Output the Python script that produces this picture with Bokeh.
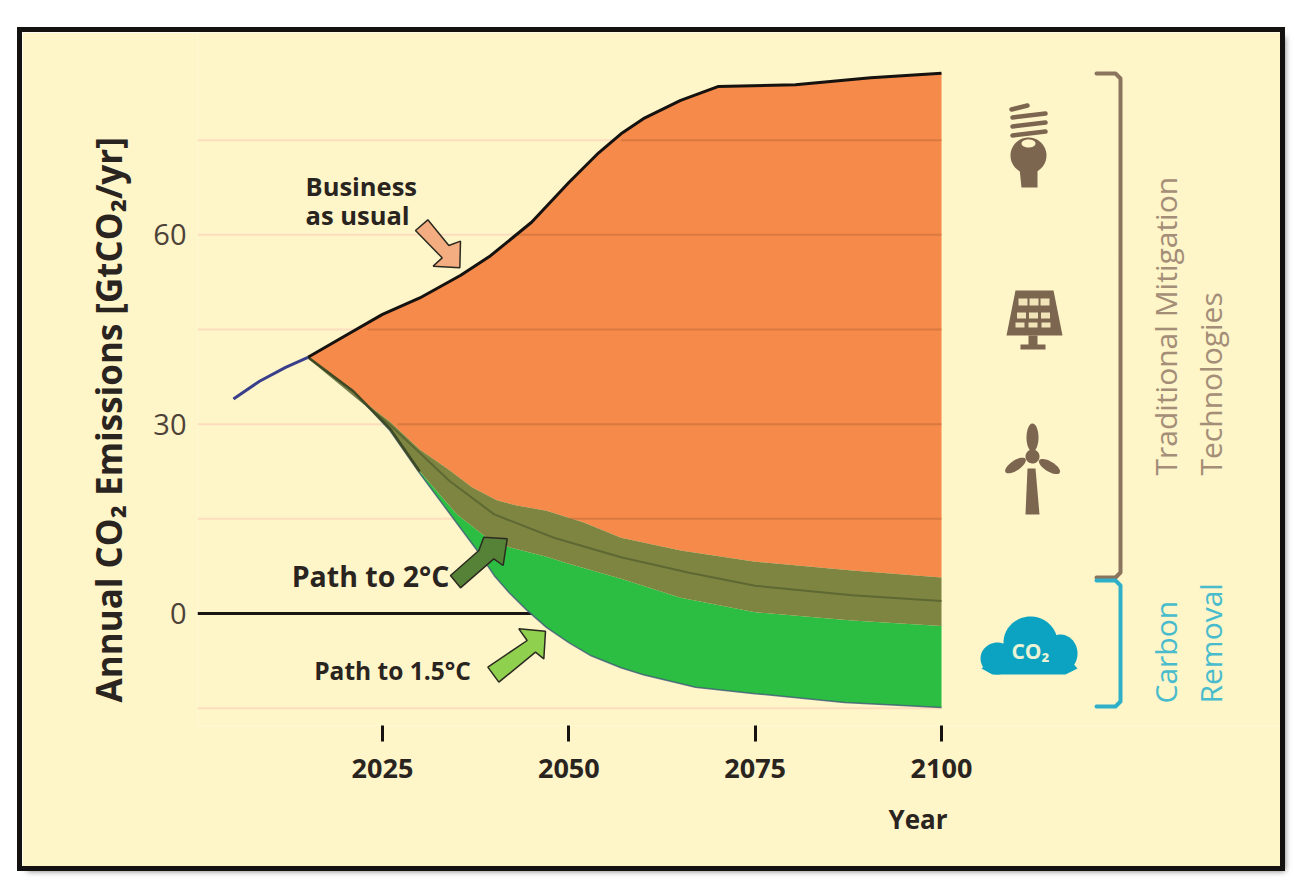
import numpy as np
from bokeh.plotting import figure
from bokeh.models import Range1d, FixedTicker, Label, Title
from bokeh.embed import file_html
from bokeh.resources import INLINE

# ---------- data ----------
hist_years = [2005, 2008.5, 2012, 2015]
hist_vals = [34, 36.8, 39, 40.6]
bau_years = [2015, 2020, 2025, 2030, 2035.5, 2039.5, 2045, 2050, 2054, 2057, 2060, 2065, 2070, 2080.4, 2090.5, 2100]
bau_vals = [40.6, 44, 47.4, 50, 53.6, 56.7, 62, 68.3, 73, 76, 78.4, 81.3, 83.5, 83.8, 84.9, 85.6]
two_up_years = [2015, 2020.7, 2026, 2030, 2034, 2037, 2040.4, 2043, 2047, 2052, 2057, 2065, 2075, 2088, 2100]
two_up_vals = [40.6, 35.2, 30.4, 26, 22.7, 20, 17.9, 17.1, 16.3, 14.4, 12, 10, 8.2, 6.8, 5.7]
two_mid_years = [2015, 2026, 2034, 2040, 2048, 2057, 2066, 2075, 2088, 2100]
two_mid_vals = [40.6, 29.9, 21, 15.7, 12, 8.9, 6.5, 4.4, 2.9, 2]
two_lo_years = [2015, 2021, 2026, 2030, 2035, 2039, 2042, 2047, 2050, 2057, 2065, 2075, 2088, 2100]
two_lo_vals = [40.6, 35.3, 29.3, 22.5, 15.7, 12, 10.5, 9, 7.9, 5.5, 2.5, 0.2, -1.1, -2]
one_lo_years = [2015, 2021, 2026, 2030, 2038, 2040, 2042, 2044.4, 2047, 2050, 2053, 2057, 2060, 2067, 2075, 2087, 2100]
one_lo_vals = [40.6, 35.3, 29.0, 22.2, 9.5, 6, 3.3, 0.5, -2.2, -4.6, -6.7, -8.6, -9.7, -11.7, -12.7, -14.1, -14.9]
grid_levels = [75, 60, 45, 30, 15, -15]
grid_over_from = [2057, 2043, 2023, 2027, 2050]
y_ticks = [0, 30, 60]
x_ticks = [2025, 2050, 2075, 2100]

# ---------- colours ----------
CARD = "#FEF5C8"; ORANGE = "#F58A4B"; OLIVE = "#7E8541"; GREEN = "#2CBE43"
PEACH = "#FCDDBE"; BROWN = "#8A745E"; TEAL = "#2FB0C8"; INK = "#2A2420"
FONT = "Open Sans"

# ---------- reference-pixel helpers for annotations ----------
def X(px): return 2025 + (px - 382) / 7.4533
def Y(py): return (613 - py) / 6.311
def XS(a): return [X(v) for v in a]
def YS(a): return [Y(v) for v in a]

L, R, T, B = 22, 1280, 32, 866
BOT = 725
p = figure(width=R - L, height=B - T, output_backend="svg", toolbar_location=None,
           x_range=Range1d(X(197), X(R)), y_range=Range1d(Y(BOT), Y(T)),
           min_border_left=197 - L, min_border_right=0, min_border_top=0, min_border_bottom=B - BOT,
           background_fill_color=CARD, border_fill_color=CARD, outline_line_color=None)
p.margin = (T, 0, 0, L)
p.styles = {"outline": "5px solid #141210", "box-shadow": "5px 5px 6px rgba(0,0,0,0.55)"}
p.grid.visible = False

p.xaxis.ticker = FixedTicker(ticks=x_ticks)
p.xaxis.axis_line_color = None
p.xaxis.major_tick_in = 0
p.xaxis.major_tick_out = 16
p.xaxis.major_tick_line_width = 3
p.xaxis.major_tick_line_color = "#151210"
p.xaxis.minor_tick_line_color = None
p.xaxis.major_label_standoff = 17
p.xaxis.major_label_text_font = FONT
p.xaxis.major_label_text_font_style = "bold"
p.xaxis.major_label_text_font_size = "27px"
p.xaxis.major_label_text_color = INK

p.yaxis.ticker = FixedTicker(ticks=y_ticks)
p.yaxis.axis_line_color = None
p.yaxis.major_tick_line_color = None
p.yaxis.minor_tick_line_color = None
p.yaxis.major_tick_in = 0
p.yaxis.major_tick_out = 0
p.yaxis.major_label_standoff = 11
p.yaxis.major_label_text_font = FONT
p.yaxis.major_label_text_font_size = "29px"
p.yaxis.major_label_text_color = "#4D4238"

p.add_layout(Title(text="Annual CO\u2082 Emissions [GtCO\u2082/yr]", text_font=FONT, text_font_size="35px",
                   text_font_style="bold", text_color=INK, align="left", standoff=38, offset=23), "left")
p.add_layout(Title(text="Year", text_font=FONT, text_font_size="26px", text_font_style="bold",
                   text_color=INK, align="left", standoff=36, offset=691), "below")

# gridlines under the areas
p.segment(x0=[X(197)] * len(grid_levels), x1=[2100] * len(grid_levels), y0=grid_levels, y1=grid_levels,
          line_color=PEACH, line_width=2)
p.segment(x0=[X(197)], x1=[2060], y0=[0], y1=[0], line_color="#1A1512", line_width=3)

# areas
p.patch(bau_years + two_up_years[::-1], bau_vals + two_up_vals[::-1], fill_color=ORANGE, line_color=None)
p.patch(two_lo_years + one_lo_years[::-1], two_lo_vals + one_lo_vals[::-1], fill_color=GREEN, line_color=None)
p.patch(two_up_years + two_lo_years[::-1], two_up_vals + two_lo_vals[::-1], fill_color=OLIVE, line_color=None)

# gridlines showing through the orange
p.segment(x0=grid_over_from, x1=[2100] * len(grid_over_from), y0=grid_levels[:5], y1=grid_levels[:5],
          line_color="#A65A2A", line_width=2, line_alpha=0.35)

# outlines
p.line(two_mid_years, two_mid_vals, line_color="#55602F", line_width=2, line_alpha=0.8)
p.line(one_lo_years, one_lo_vals, line_color="#3F5A78", line_width=1.5, line_alpha=0.8)
p.line(two_lo_years[:4], two_lo_vals[:4], line_color="#3E4A24", line_width=2.5)
p.line(bau_years, bau_vals, line_color="#15120F", line_width=3)
p.line(hist_years, hist_vals, line_color="#3A3F8C", line_width=3)

# arrows
def poly(pts, **kw):
    a = np.array(pts, float)
    p.patch(XS(a[:, 0]), YS(a[:, 1]), **kw)

def zoomed(pts, ox, oy):
    return [(ox + a / 3, oy + b / 3) for a, b in pts]

AR = dict(line_color="#2C2A20", line_width=1.5)
poly(zoomed([(405, 240), (442, 208), (505, 285), (540, 272), (538, 352), (458, 347), (485, 322)], 280, 150), fill_color="#F3AD80", **AR)
poly(zoomed([(510, 705), (595, 630), (610, 590), (680, 595), (668, 675), (640, 655), (540, 742)], 280, 340), fill_color="#568238", **AR)
poly(zoomed([(622, 980), (740, 900), (715, 865), (795, 872), (790, 955), (765, 935), (655, 1025)], 280, 340), fill_color="#8FD14F", **AR)

# brackets
def bracket(pts, col):
    a = np.array(pts, float)
    p.line(XS(a[:, 0]), YS(a[:, 1]), line_color=col, line_width=4, line_join="round", line_cap="round")

bracket([(1096, 73), (1115, 73), (1120, 78), (1120, 572), (1115, 577), (1096, 577)], BROWN)
bracket([(1096, 580), (1115, 580), (1120, 585), (1120, 701), (1115, 706), (1096, 706)], TEAL)

# icons
def ell(cx, cy, rx, ry, col, rot=0.0):
    t = np.linspace(0, 2 * np.pi, 50)
    xx = rx * np.cos(t); yy = ry * np.sin(t)
    c, s = np.cos(rot), np.sin(rot)
    p.patch(XS(cx + xx * c - yy * s), YS(cy + xx * s + yy * c), fill_color=col, line_color=None)

ICON = "#7D6650"
# bulb
for y0, x0, x1 in [(105, 1011, 1027), (113, 1012, 1045), (122, 1012, 1045), (131, 1012, 1045)]:
    p.line(XS([x0, x1]), YS([y0 + 4, y0]), line_color=ICON, line_width=4.5, line_cap="round")
ell(1028, 155, 18, 18, ICON)
ell(1028, 143, 11, 5, ICON)
ell(1028, 143, 7, 4, CARD)
poly([(1019, 168), (1037, 168), (1037, 187), (1021, 187)], fill_color=ICON, line_color=None)
# solar panel
poly([(1015, 290), (1053, 290), (1062, 335), (1006, 335)], fill_color=ICON, line_color=None)
for r, (yy, h) in enumerate([(298, 7), (312, 6), (322, 5)]):
    for c in range(3):
        xx = 1018 - r * 1.5 + c * (11 + r)
        poly([(xx, yy), (xx + 9, yy), (xx + 9, yy + h), (xx, yy + h)], fill_color="#F0E4B8", line_color=None)
poly([(1028, 335), (1037, 335), (1037, 344), (1045, 344), (1045, 349), (1020, 349), (1020, 344), (1028, 344)], fill_color=ICON, line_color=None)
# wind turbine
poly([(1027, 468), (1035, 468), (1039, 514), (1025, 514)], fill_color=ICON, line_color=None)
ell(1032, 437, 6, 14, ICON)
ell(1015, 465, 12, 5, ICON, -0.59)
ell(1049, 466, 12, 5, ICON, 0.55)
ell(1032, 456, 7, 7, ICON)
# cloud
CLOUD = "#0BA3C1"
ell(1030, 642, 27, 26, CLOUD)
ell(997, 658, 17, 16, CLOUD)
ell(1060, 653, 17, 19, CLOUD)
poly([(990, 660), (1070, 660), (1077, 668), (1065, 674), (992, 674), (981, 668)], fill_color=CLOUD, line_color=None)

# texts
def txt(s, x, y, size, col=INK, style="normal", angle=0.0, align="center", base="middle"):
    p.add_layout(Label(x=X(x), y=Y(y), text=s, text_font=FONT, text_font_size=f"{size}px", text_color=col,
                       text_font_style=style, angle=angle, text_align=align, text_baseline=base))

V = np.pi / 2
txt("Business", 305, 185, 25.5, style="bold", align="left")
txt("as usual", 305, 214, 25.5, style="bold", align="left")
txt("Path to 2\u00b0C", 370, 575, 28.5, style="bold")
txt("Path to 1.5\u00b0C", 392, 670, 24.5, style="bold")
txt("Traditional Mitigation", 1165, 475, 30, col="#A48E78", angle=V, align="left")
txt("Technologies", 1210, 475, 30, col="#A48E78", angle=V, align="left")
txt("Carbon", 1165, 703, 30, col="#48BCCD", angle=V, align="left")
txt("Removal", 1210, 703, 30, col="#48BCCD", angle=V, align="left")
txt("CO\u2082", 1030, 650, 21, col="#EAF3D5", style="bold")

open("out.html", "w").write(file_html(p, INLINE))
